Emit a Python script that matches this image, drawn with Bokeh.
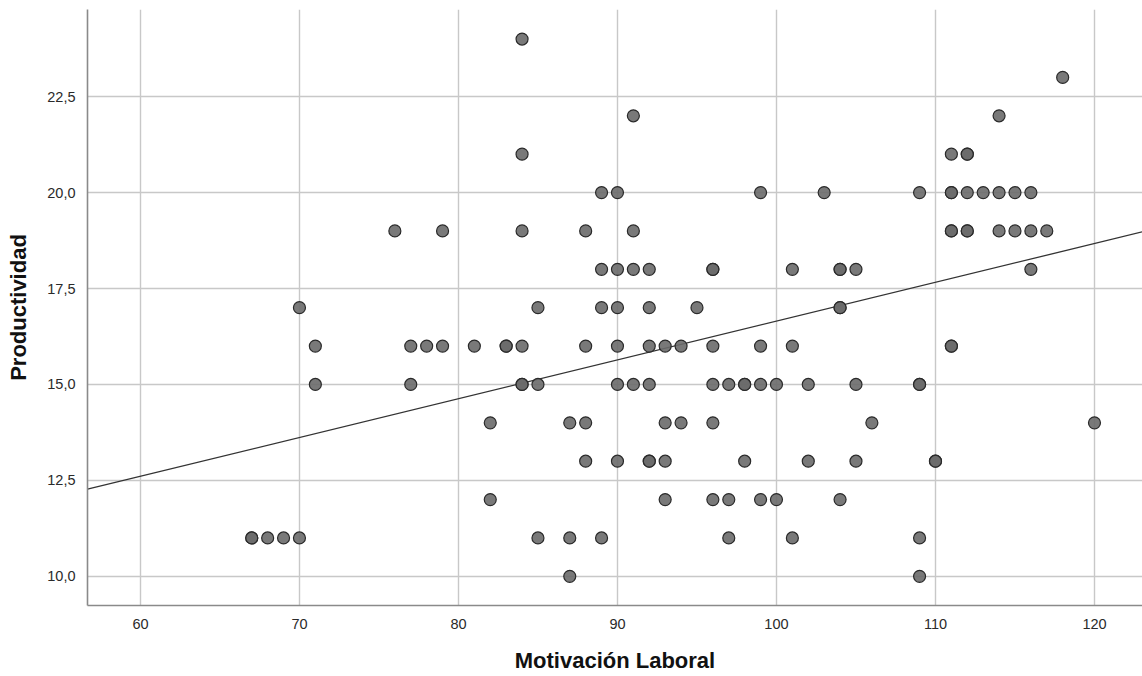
from bokeh.plotting import figure
from bokeh.models import FixedTicker, CustomJSTickFormatter, Range1d
from bokeh.embed import file_html
from bokeh.resources import INLINE

# ---- data ----
motivacion = [
    87, 109,                                            # 10
    67, 67, 68, 69, 70, 85, 87, 89, 97, 101, 109,       # 11
    82, 93, 96, 97, 99, 100, 104,                       # 12
    88, 90, 92, 92, 93, 98, 102, 105, 110, 110,         # 13
    82, 87, 88, 93, 94, 96, 106, 120,                   # 14
    71, 77, 84, 84, 85, 90, 91, 92, 96, 97, 98, 98, 99, 100, 102, 105, 109, 109,  # 15
    71, 77, 78, 79, 81, 83, 83, 84, 88, 90, 92, 93, 94, 96, 99, 101, 111, 111,    # 16
    70, 85, 89, 90, 92, 95, 104, 104,                   # 17
    89, 90, 91, 92, 96, 96, 101, 104, 104, 105, 116,    # 18
    76, 79, 84, 88, 91, 111, 111, 112, 112, 114, 115, 116, 117,  # 19
    89, 90, 99, 103, 109, 111, 111, 112, 113, 114, 115, 116,     # 20
    84, 111, 112, 112,                                  # 21
    91, 114,                                            # 22
    118,                                                # 23
    84,                                                 # 24
]
productividad = (
    [10] * 2 + [11] * 11 + [12] * 7 + [13] * 10 + [14] * 8 + [15] * 18 +
    [16] * 18 + [17] * 8 + [18] * 11 + [19] * 13 + [20] * 12 + [21] * 4 +
    [22] * 2 + [23] * 1 + [24] * 1
)

# fitted line
fit_intercept = 6.54
fit_slope = 0.1011

x_ticks = [60, 70, 80, 90, 100, 110, 120]
y_ticks = [10.0, 12.5, 15.0, 17.5, 20.0, 22.5]

x_lo, x_hi = 56.67, 123.02
y_lo, y_hi = 9.24, 24.77

FONT = "Liberation Sans"

p = figure(width=1142, height=676, output_backend="svg", toolbar_location=None,
           x_range=Range1d(x_lo, x_hi), y_range=Range1d(y_lo, y_hi),
           min_border_left=87, min_border_right=0, min_border_top=9,
           min_border_bottom=71, background_fill_color="white",
           border_fill_color="white")
p.outline_line_color = None

# grid
for g in (p.xgrid, p.ygrid):
    g.grid_line_color = "#c8c8c8"
    g.grid_line_width = 1.4
p.xgrid.ticker = FixedTicker(ticks=x_ticks)
p.ygrid.ticker = FixedTicker(ticks=y_ticks)

# axes
p.xaxis.ticker = FixedTicker(ticks=x_ticks)
p.yaxis.ticker = FixedTicker(ticks=y_ticks)
p.yaxis.formatter = CustomJSTickFormatter(code="return tick.toFixed(1).replace('.', ',');")
for ax in (p.xaxis, p.yaxis):
    ax.axis_line_color = "#8a8a8a"
    ax.axis_line_width = 1.6
    ax.major_tick_line_color = None
    ax.minor_tick_line_color = None
    ax.major_label_text_font = FONT
    ax.major_label_text_font_size = "14.5px"
    ax.major_label_text_color = "#2a2a2a"
    ax.axis_label_text_font = FONT
    ax.axis_label_text_font_size = "22px"
    ax.axis_label_text_font_style = "bold"
    ax.axis_label_text_color = "#111111"
p.xaxis.axis_label = "Motivación Laboral"
p.yaxis.axis_label = "Productividad"
p.xaxis.major_label_standoff = 7
p.xaxis.axis_label_standoff = 16
p.yaxis.major_label_standoff = 6
p.yaxis.axis_label_standoff = 13

# fit line
p.line([x_lo, x_hi], [fit_intercept + fit_slope * x_lo, fit_intercept + fit_slope * x_hi],
       line_color="#333333", line_width=1.3)

# points
p.scatter(motivacion, productividad, size=12, fill_color="#6a6a6a", fill_alpha=0.9,
          line_color="#2a2a2a", line_width=1.2)

open("out.html", "w").write(file_html(p, INLINE))
